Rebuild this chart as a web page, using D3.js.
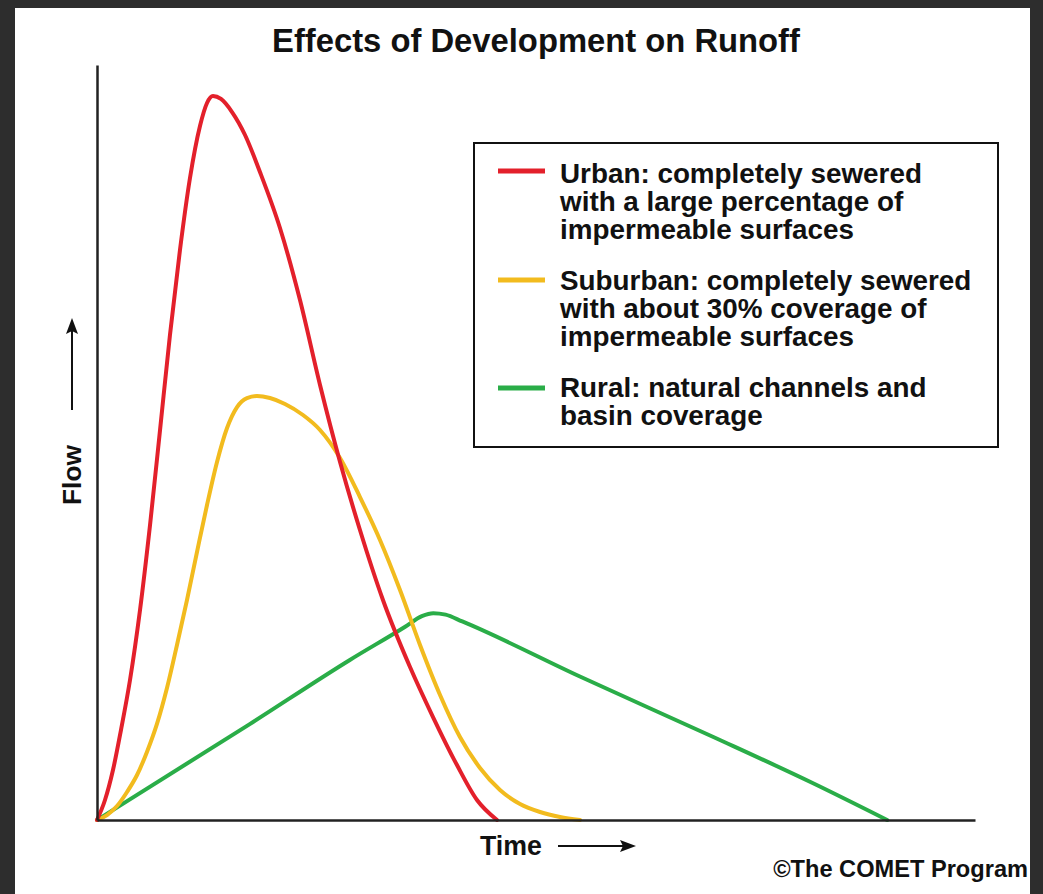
<!DOCTYPE html>
<html><head><meta charset="utf-8">
<script src="https://cdn.jsdelivr.net/npm/d3@7"></script>
<style>body{margin:0;background:#2d2d2d;overflow:hidden} svg{display:block}</style>
</head><body>
<svg id="c" width="1043" height="894"></svg>
<script>
// ---- data ----
const titleText = "Effects of Development on Runoff";
const xLabel = "Time";
const yLabel = "Flow";
const creditText = "\u00A9The COMET Program";
const seriesNames = ["Urban", "Suburban", "Rural"];
const seriesColors = ["#e3202b", "#f2bb1e", "#2aad48"];
const legendUrban = ["Urban: completely sewered", "with a large percentage of", "impermeable surfaces"];
const legendSuburban = ["Suburban: completely sewered", "with about 30% coverage of", "impermeable surfaces"];
const legendRural = ["Rural: natural channels and", "basin coverage"];

const urbanTime = [0, 0.91, 1.82, 2.73, 3.76, 4.90, 6.04, 7.18, 8.31, 9.45, 10.59, 11.73, 12.53, 13.21, 14.12, 15.38, 16.86, 18.56, 20.84, 23.12, 25.40, 27.68, 29.95, 32.57, 35.65, 38.27, 41.00, 43.28, 45.56];
const urbanFlow = [0, 2.65, 6.62, 11.92, 18.54, 27.81, 39.07, 51.66, 64.24, 75.50, 85.03, 91.92, 94.97, 95.89, 95.50, 93.77, 90.73, 85.83, 78.41, 68.87, 57.62, 47.42, 38.41, 29.14, 20.26, 13.64, 7.28, 2.65, 0];

const suburbanTime = [0, 1.14, 2.28, 3.42, 4.56, 5.69, 6.83, 7.97, 9.11, 10.25, 11.39, 12.53, 13.67, 14.81, 15.95, 17.08, 18.22, 19.70, 21.41, 23.46, 25.40, 27.68, 29.95, 32.23, 34.51, 36.79, 39.07, 41.34, 43.62, 45.90, 48.18, 50.46, 52.73, 55.01];
const suburbanFlow = [0, 0.66, 1.85, 3.71, 5.96, 9.01, 12.72, 17.48, 23.18, 29.14, 35.50, 41.72, 47.42, 51.92, 54.70, 55.89, 56.16, 55.89, 55.10, 53.64, 51.66, 47.95, 42.78, 37.09, 30.46, 23.18, 16.56, 10.99, 6.89, 3.97, 2.12, 1.06, 0.40, 0];

const ruralTime = [0, 17.4, 28.8, 35.1, 37.0, 38.3, 39.7, 41.6, 55.0, 70.2, 81.5, 90.0];
const ruralFlow = [0, 12.7, 21.2, 25.6, 27.0, 27.4, 27.2, 26.3, 19.0, 11.0, 4.9, 0];

// ---- drawing ----
const svg = d3.select("#c");
const FONT = "'Liberation Sans', Arial, Helvetica, sans-serif";
const x = d3.scaleLinear().domain([0, 100]).range([97, 975]);
const y = d3.scaleLinear().domain([0, 100]).range([820, 65]);

svg.append("rect").attr("x", 0).attr("y", 0).attr("width", 1043).attr("height", 894).attr("fill", "#2d2d2d");
svg.append("rect").attr("x", 15).attr("y", 8).attr("width", 1015).attr("height", 886).attr("fill", "#ffffff");

function fit(sel, w) {
  const len = sel.node().getComputedTextLength();
  const fs = parseFloat(sel.attr("font-size"));
  const nfs = fs * w / len;
  sel.attr("font-size", nfs);
  return nfs;
}

// title
const t = svg.append("text").attr("x", 536).attr("y", 52).attr("text-anchor", "middle")
  .attr("font-family", FONT).attr("font-weight", "bold").attr("font-size", 28).attr("fill", "#111")
  .text(titleText);
fit(t, 528);

// series
const series = [
  {name: seriesNames[0], t: urbanTime, f: urbanFlow, color: seriesColors[0]},
  {name: seriesNames[1], t: suburbanTime, f: suburbanFlow, color: seriesColors[1]},
  {name: seriesNames[2], t: ruralTime, f: ruralFlow, color: seriesColors[2]}
];
const line = d3.line().x(d => x(d[0])).y(d => y(d[1])).curve(d3.curveMonotoneX);
[2, 1, 0].forEach(i => {
  const s = series[i];
  svg.append("path").datum(s.t.map((v, k) => [v, s.f[k]]))
    .attr("d", line).attr("fill", "none").attr("stroke", s.color)
    .attr("stroke-width", 4).attr("stroke-linejoin", "round").attr("stroke-linecap", "round");
});

// axes
const xAxis = svg.append("g").attr("transform", `translate(0,${y(0)})`)
  .call(d3.axisBottom(x).tickValues([]).tickSizeOuter(0));
const yAxis = svg.append("g").attr("transform", `translate(${x(0)},0)`)
  .call(d3.axisLeft(y).tickValues([]).tickSizeOuter(0));
[xAxis, yAxis].forEach(a => a.select(".domain").attr("stroke", "#222").attr("stroke-width", 2.5));

// x label + arrow
const tl = svg.append("text").attr("x", 480).attr("y", 855)
  .attr("font-family", FONT).attr("font-weight", "bold").attr("font-size", 24).attr("fill", "#111")
  .text(xLabel);
fit(tl, 62);
svg.append("line").attr("x1", 558).attr("y1", 846).attr("x2", 624).attr("y2", 846)
  .attr("stroke", "#111").attr("stroke-width", 2);
svg.append("path").attr("d", "M636,846 L620,840 L623,846 L620,852 Z").attr("fill", "#111");

// y label + arrow
const yl = svg.append("text").attr("transform", "translate(81,475) rotate(-90)").attr("text-anchor", "middle")
  .attr("font-family", FONT).attr("font-weight", "bold").attr("font-size", 24).attr("fill", "#111")
  .text(yLabel);
fit(yl, 60);
svg.append("line").attr("x1", 72).attr("y1", 410).attr("x2", 72).attr("y2", 330)
  .attr("stroke", "#111").attr("stroke-width", 2);
svg.append("path").attr("d", "M72,318 L66,334 L72,331 L78,334 Z").attr("fill", "#111");

// credit
const cr = svg.append("text").attr("x", 1028).attr("y", 877).attr("text-anchor", "end")
  .attr("font-family", FONT).attr("font-weight", "bold").attr("font-size", 20).attr("fill", "#111")
  .text(creditText);
fit(cr, 255);

// legend
svg.append("rect").attr("x", 474).attr("y", 143).attr("width", 524).attr("height", 304)
  .attr("fill", "#fff").attr("stroke", "#111").attr("stroke-width", 2);
const legendGroups = [
  {lines: legendUrban, swY: 171, base: 183},
  {lines: legendSuburban, swY: 280, base: 290},
  {lines: legendRural, swY: 388, base: 397}
];
const probe = svg.append("text").attr("font-family", FONT).attr("font-weight", "bold")
  .attr("font-size", 26).text(legendUrban[0]);
const lfs = fit(probe, 362);
probe.remove();
legendGroups.forEach((g, i) => {
  svg.append("line").attr("x1", 498).attr("x2", 545).attr("y1", g.swY).attr("y2", g.swY)
    .attr("stroke", seriesColors[i]).attr("stroke-width", 5);
  const tx = svg.append("text").attr("font-family", FONT).attr("font-weight", "bold")
    .attr("font-size", lfs).attr("fill", "#111");
  g.lines.forEach((s, k) => {
    tx.append("tspan").attr("x", 560).attr("y", g.base + k * 28).text(s);
  });
});
</script>
</body></html>
